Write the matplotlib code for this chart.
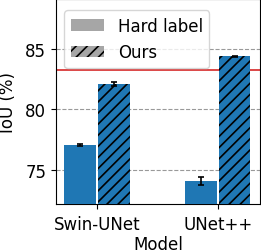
import matplotlib
matplotlib.use("Agg")
import matplotlib.pyplot as plt
from matplotlib.patches import Patch
import numpy as np

models = ["Swin-UNet", "UNet++"]
hard_iou = [77.0, 74.05]
hard_err = [0.08, 0.35]
ours_iou = [82.1, 84.38]
ours_err = [0.15, 0.05]
ref_line = 83.25

plt.rcParams["hatch.linewidth"] = 1.2

fig = plt.figure(figsize=(2.61, 2.53), dpi=100)
ax = fig.add_axes([56 / 261, 1 - 204.5 / 253, 204 / 261, 204.5 / 253])

x = np.arange(len(models))
w = 0.26
ax.bar(x - 0.14, hard_iou, w, yerr=hard_err, color="#1f77b4",
       capsize=2.5, error_kw=dict(elinewidth=1.2, capthick=1.2), zorder=3)
ax.bar(x + 0.14, ours_iou, w, yerr=ours_err, color="#1f77b4",
       edgecolor="black", linewidth=0, hatch="///",
       capsize=2.5, error_kw=dict(elinewidth=1.2, capthick=1.2), zorder=3)
ax.axhline(ref_line, color="#d62728", linewidth=1.2, zorder=2)

ax.set_ylim(72.2, 89.1)
ax.set_xlim(-0.34, 1.35)
ax.set_yticks([75, 80, 85])
ax.set_xticks(x)
ax.set_xticklabels(models)
ax.yaxis.grid(True, linestyle="--", color="gray", alpha=0.8, zorder=0)
ax.set_axisbelow(True)
ax.tick_params(labelsize=12)
ax.tick_params(axis="x", pad=4.5)
ax.set_xlabel("Model", fontsize=12, labelpad=2)
ax.set_ylabel("IoU (%)", fontsize=12, labelpad=6)

handles = [Patch(facecolor="#a6a6a6", label="Hard label"),
           Patch(facecolor="#a6a6a6", edgecolor="black", linewidth=0,
                 hatch="///", label="Ours")]
ax.legend(handles=handles, loc="upper left", fontsize=12,
          bbox_to_anchor=(0.0, 0.985), handlelength=2.0)

fig.savefig("out.png", dpi=100)
